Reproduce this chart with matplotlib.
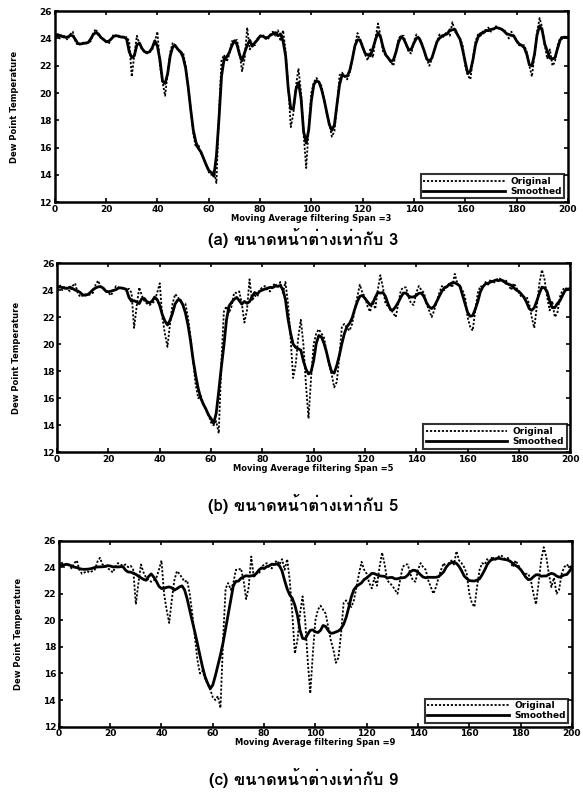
import matplotlib
import matplotlib.pyplot as plt
import numpy as np
import pandas as pd
from matplotlib import font_manager
from matplotlib.ft2font import FT2Font

matplotlib.use("Agg")

# dew point temperature, one value per sample 0..200
original = [
    24.2, 24.4, 24.0, 24.3, 24.1, 23.9, 24.3, 24.5, 23.8, 23.5,
    23.6, 23.7, 23.6, 23.7, 23.8, 24.4, 24.7, 24.2, 24.1, 23.9,
    23.8, 23.6, 24.0, 24.3, 24.2, 24.1, 24.2, 24.0, 24.1, 23.8,
    21.2, 22.8, 24.2, 23.6, 23.2, 23.0, 22.9, 23.0, 23.2, 23.8,
    24.5, 22.0, 20.8, 19.8, 21.5, 23.0, 23.7, 23.5, 23.2, 22.9,
    23.0, 22.0, 20.5, 18.8, 17.0, 16.0, 16.2, 15.6, 15.2, 14.8,
    14.2, 14.0, 14.3, 13.4, 18.5, 22.4, 22.8, 22.3, 22.8, 23.8,
    23.8, 23.9, 23.0, 21.6, 22.5, 24.8, 23.2, 23.6, 23.5, 24.0,
    24.2, 24.3, 24.0, 23.9, 24.3, 24.5, 24.2, 24.6, 23.8, 24.6,
    23.0, 20.5, 17.5, 18.5, 20.5, 21.8, 20.0, 17.0, 14.5, 17.5,
    20.0, 20.8, 21.1, 20.8, 20.5, 19.5, 18.5, 17.8, 16.8, 17.2,
    19.0, 21.3, 21.5, 21.2, 21.0, 21.5, 22.5, 23.5, 24.4, 23.8,
    23.5, 22.8, 22.4, 23.2, 22.6, 24.0, 25.1, 24.2, 23.0, 22.8,
    22.6, 22.3, 22.0, 23.0, 24.0, 24.2, 24.2, 23.5, 23.0, 22.9,
    23.8, 24.3, 24.0, 23.8, 23.0, 22.5, 22.0, 22.5, 23.2, 23.8,
    24.3, 24.0, 24.3, 24.5, 24.2, 25.2, 24.5, 24.3, 24.0, 23.5,
    22.0, 21.3, 21.0, 22.5, 23.8, 24.3, 24.2, 24.6, 24.4, 24.8,
    24.5, 24.7, 24.9, 24.8, 24.6, 24.7, 24.4, 24.0, 24.5, 24.2,
    23.8, 23.5, 23.5, 23.5, 23.0, 22.0, 21.2, 22.8, 24.5, 25.5,
    24.8, 23.5, 22.5, 23.2, 22.0, 22.3, 23.5, 24.0, 24.2, 24.0,
    24.1,
]
spans = [3, 5, 9]
captions = [
    "(a) ขนาดหน้าต่างเท่ากับ 3",
    "(b) ขนาดหน้าต่างเท่ากับ 5",
    "(c) ขนาดหน้าต่างเท่ากับ 9",
]
x_ticks = list(range(0, 201, 20))
y_ticks = list(range(12, 27, 2))


def find_thai_font():
    """ Look for an installed font that has Thai glyphs """
    for f in font_manager.fontManager.ttflist:
        try:
            if ord("ข") in FT2Font(f.fname).get_charmap():
                return f.name
        except Exception:
            continue
    return None


thai = find_thai_font()
caption_family = [thai, "DejaVu Serif"] if thai else ["DejaVu Serif"]

x = np.arange(len(original))
series = pd.Series(original)

fig = plt.figure(figsize=(5.83, 8.02), dpi=100)
boxes = [
    (0.094, 0.748, 0.880, 0.238),
    (0.098, 0.436, 0.880, 0.236),
    (0.101, 0.094, 0.880, 0.232),
]
caption_y = [0.703, 0.372, 0.030]

for box, span, cap, cy in zip(boxes, spans, captions, caption_y):
    ax = fig.add_axes(box)
    smoothed = series.rolling(span, center=True, min_periods=1).mean()
    ax.plot(x, original, ls=(0, (1.2, 1.0)), c="black", lw=1.3, label="Original")
    ax.plot(x, smoothed, "-", c="black", lw=2.0, label="Smoothed")
    ax.set_xlim(0, 200)
    ax.set_ylim(12, 26)
    ax.set_xticks(x_ticks)
    ax.set_yticks(y_ticks)
    ax.tick_params(direction="in", length=3, width=1.2, labelsize=6.5, pad=2,
                   top=True, right=True)
    for lab in ax.get_xticklabels() + ax.get_yticklabels():
        lab.set_fontweight("bold")
    for s in ax.spines.values():
        s.set_linewidth(1.8)
    ax.set_xlabel(f"Moving Average filtering Span ={span}", fontsize=6,
                  fontweight="bold", labelpad=0)
    ax.set_ylabel("Dew Point Temperature", fontsize=6, fontweight="bold",
                  labelpad=15)
    leg = ax.legend(loc="lower right", frameon=True, fancybox=False,
                    borderpad=0.3, labelspacing=0.1, handlelength=9,
                    handletextpad=0.6, borderaxespad=0.4,
                    prop={"weight": "bold", "size": 6.5})
    leg.get_frame().set_edgecolor("black")
    leg.get_frame().set_linewidth(1.5)
    fig.text(0.52, cy, cap, ha="center", va="center", fontsize=12,
             fontweight="bold", family=caption_family)

fig.savefig("out.png", dpi=100)
